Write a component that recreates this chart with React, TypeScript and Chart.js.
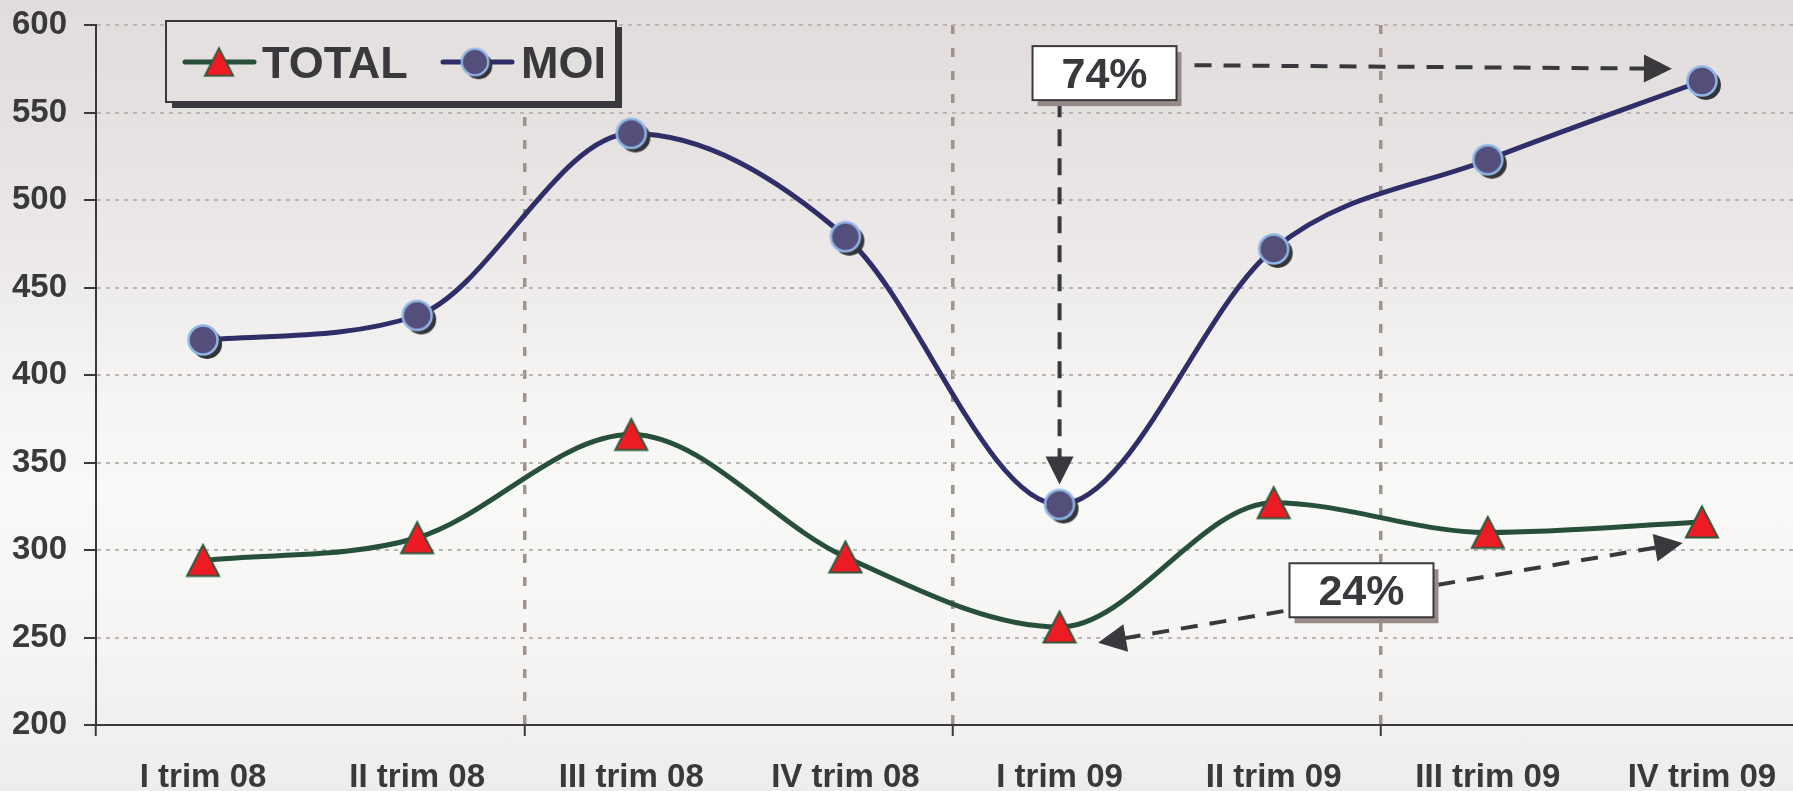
import React, { useEffect, useRef } from "react";
import { Chart, registerables } from "chart.js";

Chart.register(...registerables);

// ---------- data ----------
const categories = [
  "I trim 08",
  "II trim 08",
  "III trim 08",
  "IV trim 08",
  "I trim 09",
  "II trim 09",
  "III trim 09",
  "IV trim 09",
];
const totalValues = [294, 307, 366, 296, 256, 327, 310, 316];
const moiValues = [420, 434, 538, 479, 326, 472, 523, 568];
const seriesNames = ["TOTAL", "MOI"];
const yMin = 200;
const yMax = 600;
const yStep = 50;
const growthLabels = ["74%", "24%"];

// ---------- styles ----------
const FONT = '"Liberation Sans", Arial, Helvetica, sans-serif';
const INK = "#38383d";
const TOTAL_LINE = "#27503b";
const MOI_LINE = "#2f2e68";

function makeCircleMarker(): HTMLCanvasElement {
  const c = document.createElement("canvas");
  c.width = 44;
  c.height = 44;
  const g = c.getContext("2d")!;
  g.fillStyle = "#343438";
  g.beginPath();
  g.arc(26, 26, 15, 0, Math.PI * 2);
  g.fill();
  g.fillStyle = "#544e7b";
  g.strokeStyle = "#8fb6e6";
  g.lineWidth = 2.5;
  g.beginPath();
  g.arc(22, 22, 14.5, 0, Math.PI * 2);
  g.fill();
  g.stroke();
  return c;
}

function makeTriangleMarker(): HTMLCanvasElement {
  const c = document.createElement("canvas");
  c.width = 36;
  c.height = 36;
  const g = c.getContext("2d")!;
  g.fillStyle = "#ed1c24";
  g.strokeStyle = "#2b5a3c";
  g.lineWidth = 2;
  g.lineJoin = "miter";
  g.beginPath();
  g.moveTo(18, 2.5);
  g.lineTo(34, 33.5);
  g.lineTo(2, 33.5);
  g.closePath();
  g.fill();
  g.stroke();
  return c;
}

function arrowHead(ctx: CanvasRenderingContext2D, tx: number, ty: number, ang: number) {
  const len = 28;
  const half = 14;
  ctx.save();
  ctx.translate(tx, ty);
  ctx.rotate(ang);
  ctx.fillStyle = INK;
  ctx.beginPath();
  ctx.moveTo(0, 0);
  ctx.lineTo(-len, -half);
  ctx.lineTo(-len, half);
  ctx.closePath();
  ctx.fill();
  ctx.restore();
}

function dashedArrow(
  ctx: CanvasRenderingContext2D,
  x1: number,
  y1: number,
  x2: number,
  y2: number,
  both: boolean
) {
  const ang = Math.atan2(y2 - y1, x2 - x1);
  const cx = Math.cos(ang);
  const cy = Math.sin(ang);
  const sx = both ? x1 + cx * 26 : x1;
  const sy = both ? y1 + cy * 26 : y1;
  const ex = x2 - cx * 26;
  const ey = y2 - cy * 26;
  ctx.save();
  ctx.strokeStyle = INK;
  ctx.lineWidth = 4;
  ctx.setLineDash([17, 12]);
  ctx.beginPath();
  ctx.moveTo(sx, sy);
  ctx.lineTo(ex, ey);
  ctx.stroke();
  ctx.restore();
  arrowHead(ctx, x2, y2, ang);
  if (both) arrowHead(ctx, x1, y1, ang + Math.PI);
}

function labelBox(ctx: CanvasRenderingContext2D, cx: number, cy: number, text: string) {
  const w = 144;
  const h = 54;
  const x = cx - w / 2;
  const y = cy - h / 2;
  ctx.save();
  ctx.fillStyle = "#978b89";
  ctx.fillRect(x + 5, y + 6, w, h);
  ctx.fillStyle = "#ffffff";
  ctx.fillRect(x, y, w, h);
  ctx.strokeStyle = INK;
  ctx.lineWidth = 2;
  ctx.strokeRect(x, y, w, h);
  ctx.fillStyle = INK;
  ctx.font = `bold 43px ${FONT}`;
  ctx.textAlign = "center";
  ctx.textBaseline = "alphabetic";
  ctx.fillText(text, cx, cy + 15);
  ctx.restore();
}

export default function App() {
  const ref = useRef<HTMLCanvasElement>(null);

  useEffect(() => {
    const canvas = ref.current!;
    const circle = makeCircleMarker();
    const tri = makeTriangleMarker();

    const annotationPlugin = {
      id: "growthAnnotations",
      afterDatasetsDraw(chart: any) {
        const ctx: CanvasRenderingContext2D = chart.ctx;
        const xs = chart.scales.x;
        const ys = chart.scales.y;
        // 74% : box, arrow down to MOI minimum, arrow right to last MOI
        const b1x = xs.getPixelForValue(4.21);
        const b1y = ys.getPixelForValue(572.5);
        const minX = xs.getPixelForValue(4);
        const minY = ys.getPixelForValue(moiValues[4]);
        dashedArrow(ctx, minX, b1y + 27, minX, minY - 20, false);
        const lastX = xs.getPixelForValue(7);
        dashedArrow(ctx, b1x + 72 + 18, ys.getPixelForValue(577), lastX - 30, ys.getPixelForValue(575), false);
        labelBox(ctx, b1x, b1y, growthLabels[0]);
        // 24% : double arrow between TOTAL minimum and last TOTAL
        const a1x = xs.getPixelForValue(4.18);
        const a1y = ys.getPixelForValue(totalValues[4] - 9);
        const a2x = xs.getPixelForValue(6.91);
        const a2y = ys.getPixelForValue(totalValues[7] - 12);
        dashedArrow(ctx, a1x, a1y, a2x, a2y, true);
        labelBox(ctx, xs.getPixelForValue(5.41), ys.getPixelForValue(277), growthLabels[1]);
      },
      afterDraw(chart: any) {
        const ctx: CanvasRenderingContext2D = chart.ctx;
        const L = chart.chartArea.left;
        const T = chart.chartArea.top;
        const bx = L + 70;
        const by = T - 4;
        const bw = 450;
        const bh = 81;
        ctx.save();
        ctx.fillStyle = INK;
        ctx.fillRect(bx + 6, by + 6, bw, bh);
        ctx.fillStyle = "#e4e0df";
        ctx.fillRect(bx, by, bw, bh);
        ctx.strokeStyle = INK;
        ctx.lineWidth = 2;
        ctx.strokeRect(bx, by, bw, bh);
        const cy = by + 41;
        // TOTAL entry
        ctx.lineCap = "round";
        ctx.lineWidth = 5;
        ctx.strokeStyle = TOTAL_LINE;
        ctx.beginPath();
        ctx.moveTo(bx + 19, cy);
        ctx.lineTo(bx + 88, cy);
        ctx.stroke();
        ctx.drawImage(tri, bx + 53 - 16, cy - 16, 32, 32);
        ctx.fillStyle = INK;
        ctx.font = `bold 45px ${FONT}`;
        ctx.textAlign = "left";
        ctx.textBaseline = "alphabetic";
        ctx.fillText(seriesNames[0], bx + 96, cy + 16);
        // MOI entry
        ctx.strokeStyle = MOI_LINE;
        ctx.beginPath();
        ctx.moveTo(bx + 277, cy);
        ctx.lineTo(bx + 346, cy);
        ctx.stroke();
        ctx.drawImage(circle, bx + 309 - 20, cy - 20, 40, 40);
        ctx.fillStyle = INK;
        ctx.fillText(seriesNames[1], bx + 355, cy + 16);
        ctx.restore();
      },
    };

    const chart = new Chart(canvas, {
      type: "line",
      data: {
        labels: categories,
        datasets: [
          {
            label: seriesNames[0],
            data: totalValues,
            borderColor: TOTAL_LINE,
            borderWidth: 5,
            pointStyle: tri as any,
            pointRadius: 16,
            cubicInterpolationMode: "monotone",
            fill: false,
          },
          {
            label: seriesNames[1],
            data: moiValues,
            borderColor: MOI_LINE,
            borderWidth: 5,
            pointStyle: circle as any,
            pointRadius: 16,
            cubicInterpolationMode: "monotone",
            fill: false,
          },
        ],
      },
      options: {
        animation: false,
        responsive: false,
        maintainAspectRatio: false,
        layout: { padding: { top: 25, right: 0, left: 0, bottom: 0 } },
        plugins: {
          legend: { display: false },
          tooltip: { enabled: false },
        },
        scales: {
          x: {
            offset: true,
            border: { display: true, color: INK, width: 2, dash: [9, 14] },
            grid: {
              offset: true,
              color: (c: any) => ([2, 4, 6].includes(c.index) ? "#a0928f" : "transparent"),
              lineWidth: 3.5,
              drawTicks: true,
              tickLength: 11,
              tickWidth: 2,
              tickBorderDash: [],
              tickColor: (c: any) => ([0, 2, 4, 6].includes(c.index) ? INK : "transparent"),
            },
            ticks: {
              color: INK,
              font: { family: FONT, size: 33, weight: "bold" },
              padding: 22,
              maxRotation: 0,
              autoSkip: false,
            },
            afterFit: (s: any) => {
              s.height = 66;
            },
          },
          y: {
            min: yMin,
            max: yMax,
            border: { display: true, color: INK, width: 2, dash: [4, 5] },
            grid: {
              color: "#bdb5b3",
              lineWidth: 2,
              drawTicks: true,
              tickLength: 12,
              tickWidth: 2,
              tickBorderDash: [],
              tickColor: INK,
            },
            ticks: {
              stepSize: yStep,
              color: INK,
              font: { family: FONT, size: 33, weight: "bold", lineHeight: 0.3 },
              padding: 17,
            },
            afterFit: (s: any) => {
              s.width = 96;
            },
          },
        },
      },
      plugins: [annotationPlugin],
    });
    return () => chart.destroy();
  }, []);

  return (
    <div
      style={{
        position: "fixed",
        left: 0,
        top: 0,
        width: 1793,
        height: 791,
        overflow: "hidden",
        background:
          "linear-gradient(to bottom, #e2dddc 0%, #e5e1e0 15%, #ebe8e7 30%, #f3f2f1 45%, #f9f9f8 62%, #f6f5f4 80%, #efedeb 100%)",
      }}
    >
      <canvas ref={ref} width={1830} height={791} style={{ display: "block" }} />
    </div>
  );
}
